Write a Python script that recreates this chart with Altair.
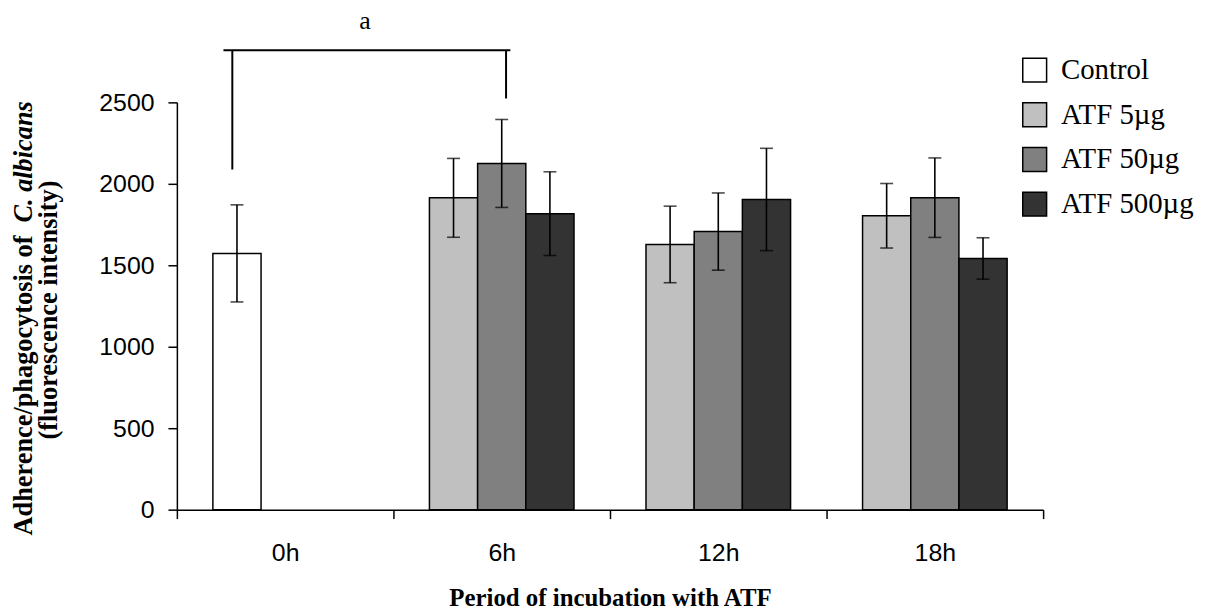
import altair as alt
import pandas as pd

# ---- data ----
times = ["0h", "6h", "12h", "18h"]
series = ["Control", "ATF 5µg", "ATF 50µg", "ATF 500µg"]
colors = ["#FFFFFF", "#C0C0C0", "#808080", "#333333"]

bar_time = ["0h", "6h", "6h", "6h", "12h", "12h", "12h", "18h", "18h", "18h"]
bar_series = ["Control", "ATF 5µg", "ATF 50µg", "ATF 500µg",
              "ATF 5µg", "ATF 50µg", "ATF 500µg",
              "ATF 5µg", "ATF 50µg", "ATF 500µg"]
bar_slot = [0, 0, 1, 2, 0, 1, 2, 0, 1, 2]
bar_mean = [1573, 1914, 2125, 1817, 1628, 1707, 1904, 1804, 1915, 1542]
bar_err = [298, 242, 270, 257, 235, 237, 314, 198, 244, 127]

bracket_from = "0h"
bracket_to = "6h"
bracket_top = 2820
bracket_left_bottom = 2088
bracket_right_bottom = 2524
bracket_label = "a"
bracket_label_y = 2949

y_ticks = [0, 500, 1000, 1500, 2000, 2500]
x_title = "Period of incubation with ATF"
y_title_1a = "Adherence/phagocytosis of"
y_title_1b = "C. albicans"
y_title_2 = "(fluorescence intensity)"

df = pd.DataFrame({
    "time": bar_time, "series": bar_series, "slot": bar_slot,
    "mean": bar_mean, "err": bar_err,
})
df["lo"] = df["mean"] - df["err"]
df["hi"] = df["mean"] + df["err"]

SERIF = "Liberation Serif"
SANS = "Liberation Sans"

xscale = alt.Scale(domain=times, paddingInner=0, paddingOuter=0)
xaxis = alt.Axis(labelAngle=0, tickBand="extent", labelPadding=22,
                 title=x_title, titleFont=SERIF, titleFontSize=25,
                 titleFontWeight="bold", titleColor="black", titlePadding=20)
yscale = alt.Scale(domain=[0, 2500], nice=False, zero=True)
yaxis = alt.Axis(values=y_ticks, format="d", labelPadding=14, title=None)


def X(field="time", bp=None):
    kw = dict(scale=xscale, axis=xaxis, title=x_title)
    if bp is not None:
        kw["bandPosition"] = bp
    return alt.X(f"{field}:N", **kw)


def Y(field):
    return alt.Y(f"{field}:Q", scale=yscale, axis=yaxis, title=None)


xoff = alt.XOffset("slot:O", scale=alt.Scale(domain=[0, 1, 2], paddingInner=0,
                                             paddingOuter=0.747))

base = alt.Chart(df)

bars = base.mark_bar(stroke="black", strokeWidth=1.5).encode(
    x=X(), xOffset=xoff, y=Y("mean"),
    color=alt.Color("series:N", scale=alt.Scale(domain=series, range=colors),
                    legend=alt.Legend(title=None, orient="none", legendX=849,
                                      legendY=-47, symbolType="square",
                                      symbolSize=576, symbolStrokeColor="black",
                                      symbolStrokeWidth=1.5, labelFont=SERIF,
                                      labelFontSize=29, labelColor="black",
                                      labelOffset=12, rowPadding=14,
                                      padding=0, labelLimit=300)),
)

err_rule = base.mark_rule(color="black", strokeWidth=1.6).encode(
    x=X(), xOffset=xoff, y=Y("lo"), y2="hi:Q")
cap_hi = base.mark_tick(color="black", size=13, thickness=1.6).encode(
    x=X(), xOffset=xoff, y=Y("hi"))
cap_lo = base.mark_tick(color="black", size=13, thickness=1.6).encode(
    x=X(), xOffset=xoff, y=Y("lo"))

bdf = pd.DataFrame({
    "t1": [bracket_from], "t2": [bracket_to], "top": [bracket_top],
    "lb": [bracket_left_bottom], "rb": [bracket_right_bottom],
    "lab": [bracket_label], "laby": [bracket_label_y],
})
bbase = alt.Chart(bdf)
br_h = bbase.mark_rule(color="black", strokeWidth=2).encode(
    x=X("t1", 0.215), x2=alt.X2("t2:N", bandPosition=0.54), y=Y("top"))
br_l = bbase.mark_rule(color="black", strokeWidth=2).encode(
    x=X("t1", 0.256), y=Y("top"), y2="lb:Q")
br_r = bbase.mark_rule(color="black", strokeWidth=2).encode(
    x=X("t2", 0.52), y=Y("top"), y2="rb:Q")
br_t = bbase.mark_text(font=SERIF, fontSize=26, color="black",
                       baseline="alphabetic").encode(
    x=X("t1", 0.869), y=Y("laby"), text="lab:N")

tdf = pd.DataFrame({"a": [y_title_1a], "b": [y_title_1b], "c": [y_title_2]})
tbase = alt.Chart(tdf)
t1a = tbase.mark_text(font=SERIF, fontSize=26.5, fontWeight="bold", angle=270,
                      align="right", baseline="middle", color="black").encode(
    x=alt.value(-154), y=alt.value(134), text="a:N")
t1b = tbase.mark_text(font=SERIF, fontSize=26.5, fontWeight="bold",
                      fontStyle="italic", angle=270, align="left",
                      baseline="middle", color="black").encode(
    x=alt.value(-154), y=alt.value(121), text="b:N")
t2 = tbase.mark_text(font=SERIF, fontSize=26.5, fontWeight="bold", angle=270,
                     align="center", baseline="middle", color="black").encode(
    x=alt.value(-129), y=alt.value(209), text="c:N")

chart = alt.layer(bars, err_rule, cap_hi, cap_lo, br_h, br_l, br_r, br_t,
                  t1a, t1b, t2).properties(
    width=872, height=410,
    autosize=alt.AutoSizeParams(type="none"),
    padding={"left": 170, "top": 93, "right": 170, "bottom": 99},
).configure_view(stroke=None).configure_axis(
    grid=False, domainColor="black", tickColor="black", labelColor="black",
    labelFont=SANS, labelFontSize=25, domainWidth=1.5, tickWidth=1.5,
    tickSize=9,
)

chart.save("out.html", embed_options={"renderer": "svg", "actions": False})
